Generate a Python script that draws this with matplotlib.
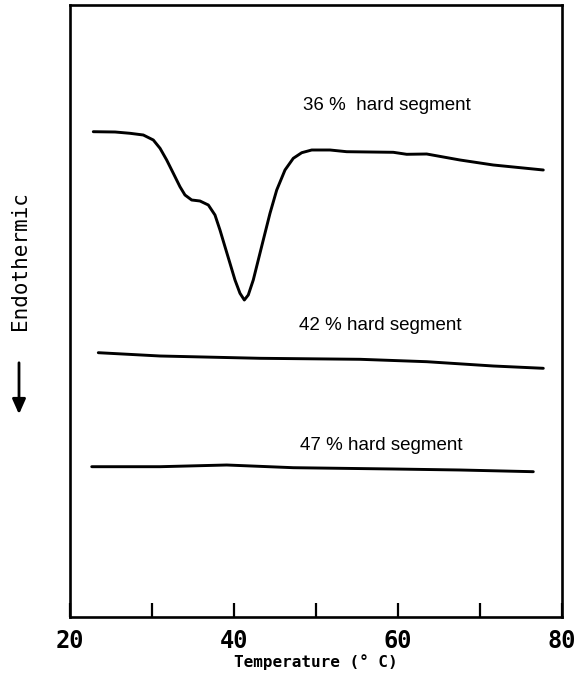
import matplotlib
matplotlib.use("Agg")
import matplotlib.pyplot as plt
from matplotlib.patches import FancyArrowPatch

# DSC traces (temperature in deg C, heat flow in arbitrary units)
temp_36 = [22.84, 25.50, 27.32, 28.94, 30.16, 30.98, 31.79, 32.60, 33.41, 34.02,
           34.84, 35.85, 36.87, 37.68, 38.29, 38.90, 39.51, 40.12, 40.73, 41.26,
           41.74, 42.35, 42.96, 43.57, 44.39, 45.21, 46.22, 47.23, 48.26, 49.48,
           51.71, 53.74, 59.43, 61.06, 63.50, 67.56, 71.62, 77.72]
flow_36 = [485.3, 485.0, 483.7, 482.0, 477.0, 468.7, 457.0, 443.7, 430.3, 422.0,
           417.0, 416.0, 412.0, 402.0, 387.0, 370.3, 353.7, 337.0, 323.7, 317.0,
           322.0, 337.0, 357.0, 377.0, 403.7, 427.0, 447.0, 458.7, 464.3, 467.0,
           467.0, 465.3, 464.7, 462.7, 463.0, 457.0, 452.0, 447.0]

temp_42 = [23.45, 30.98, 43.17, 55.37, 63.50, 71.62, 77.72]
flow_42 = [264.3, 261.0, 258.7, 257.7, 255.3, 251.0, 248.7]

temp_47 = [22.65, 30.98, 39.11, 47.23, 59.43, 67.56, 76.50]
flow_47 = [150.3, 150.3, 152.0, 149.3, 148.0, 147.0, 145.3]

labels = ["36 %  hard segment", "42 % hard segment", "47 % hard segment"]
label_pos = [(58.6, 512.0), (57.8, 292.0), (58.0, 171.0)]

x_ticks = [20, 30, 40, 50, 60, 70, 80]
x_ticklabels = ["20", "", "40", "", "60", "", "80"]

fig = plt.figure(figsize=(5.77, 6.78), dpi=100)
ax = fig.add_axes([70 / 577, 1 - 617 / 678, (562 - 70) / 577, (617 - 5) / 678])

for t, f in [(temp_36, flow_36), (temp_42, flow_42), (temp_47, flow_47)]:
    ax.plot(t, f, color="black", lw=2.1, solid_joinstyle="round", solid_capstyle="round")

for text, (x, y) in zip(labels, label_pos):
    ax.text(x, y, text, ha="center", va="center", fontsize=13.5,
            family="Liberation Sans", color="black")

ax.set_xlim(20, 80)
ax.set_ylim(0, 612)
ax.set_xticks(x_ticks)
ax.set_xticklabels(x_ticklabels, family="DejaVu Sans Mono", fontweight="bold", fontsize=17)
ax.set_yticks([])
ax.tick_params(axis="x", direction="in", length=10, width=1.6, pad=9)
for s in ax.spines.values():
    s.set_linewidth(1.9)

fig.text(316 / 577, 1 - 662 / 678, "Temperature (° C)", ha="center", va="center",
         family="DejaVu Sans Mono", fontweight="bold", fontsize=11.5)

fig.text(20 / 577, 1 - 261 / 678, "Endothermic", rotation=90, ha="center", va="center",
         family="DejaVu Sans Mono", fontsize=15)
fig.patches.append(FancyArrowPatch(
    (19 / 577, 1 - 360 / 678), (19 / 577, 1 - 417 / 678), transform=fig.transFigure,
    arrowstyle="-|>,head_length=9,head_width=4", lw=2.0, color="black", mutation_scale=1))

fig.savefig("out.png", dpi=100)
